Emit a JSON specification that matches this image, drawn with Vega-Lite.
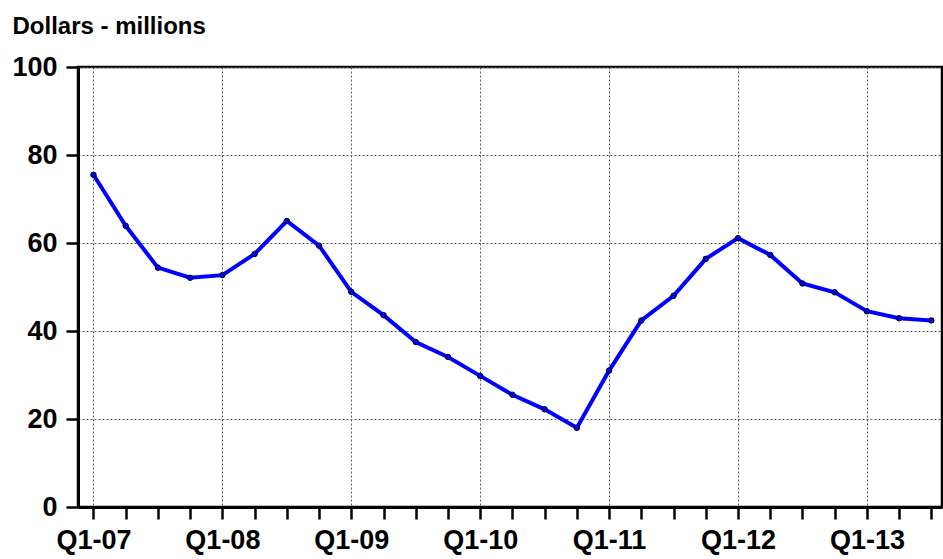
{
  "$schema": "https://vega.github.io/schema/vega-lite/v6.json",
  "width": 864,
  "height": 440,
  "autosize": "none",
  "padding": {"left": 78, "top": 67, "right": 1, "bottom": 52},
  "background": "white",
  "config": {
    "font": "Liberation Sans",
    "view": {"stroke": "black", "strokeWidth": 2.5}
  },
  "data": {
    "values": [
      {"q": "Q1-07", "i": 0, "v": 75.5},
      {"q": "Q2-07", "i": 1, "v": 63.9},
      {"q": "Q3-07", "i": 2, "v": 54.4},
      {"q": "Q4-07", "i": 3, "v": 52.1},
      {"q": "Q1-08", "i": 4, "v": 52.7},
      {"q": "Q2-08", "i": 5, "v": 57.5},
      {"q": "Q3-08", "i": 6, "v": 65.0},
      {"q": "Q4-08", "i": 7, "v": 59.4},
      {"q": "Q1-09", "i": 8, "v": 48.9},
      {"q": "Q2-09", "i": 9, "v": 43.6},
      {"q": "Q3-09", "i": 10, "v": 37.5},
      {"q": "Q4-09", "i": 11, "v": 34.1},
      {"q": "Q1-10", "i": 12, "v": 29.8},
      {"q": "Q2-10", "i": 13, "v": 25.5},
      {"q": "Q3-10", "i": 14, "v": 22.2},
      {"q": "Q4-10", "i": 15, "v": 18.0},
      {"q": "Q1-11", "i": 16, "v": 31.0},
      {"q": "Q2-11", "i": 17, "v": 42.4},
      {"q": "Q3-11", "i": 18, "v": 48.0},
      {"q": "Q4-11", "i": 19, "v": 56.4},
      {"q": "Q1-12", "i": 20, "v": 61.1},
      {"q": "Q2-12", "i": 21, "v": 57.3},
      {"q": "Q3-12", "i": 22, "v": 50.8},
      {"q": "Q4-12", "i": 23, "v": 48.8},
      {"q": "Q1-13", "i": 24, "v": 44.5},
      {"q": "Q2-13", "i": 25, "v": 42.9},
      {"q": "Q3-13", "i": 26, "v": 42.4}
    ]
  },
  "encoding": {
    "x": {
      "field": "i",
      "type": "quantitative",
      "scale": {"domain": [-0.48, 26.33], "nice": false, "zero": false},
      "axis": {
        "title": null,
        "values": [0,1,2,3,4,5,6,7,8,9,10,11,12,13,14,15,16,17,18,19,20,21,22,23,24,25,26],
        "labelExpr": "datum.value % 4 == 0 ? 'Q1-' + (7 + datum.value / 4 < 10 ? '0' : '') + (7 + datum.value / 4) : ''",
        "labelFontSize": 27,
        "labelFontWeight": "bold",
        "labelColor": "black",
        "labelPadding": 8,
        "labelFlush": false,
        "labelOverlap": false,
        "labelBound": false,
        "tickSize": 12,
        "tickWidth": 2.5,
        "tickColor": "black",
        "domainColor": "black",
        "domainWidth": 3,
        "grid": true,
        "gridColor": "#555555",
        "gridDash": [2, 2],
        "gridWidth": 1,
        "gridOpacity": {"condition": {"test": "datum.value % 4 == 0", "value": 1}, "value": 0}
      }
    },
    "y": {
      "field": "v",
      "type": "quantitative",
      "scale": {"domain": [0, 100], "nice": false},
      "axis": {
        "title": "Dollars - millions",
        "titleAngle": 0,
        "titleX": -66,
        "titleY": -34,
        "titleAlign": "left",
        "titleBaseline": "alphabetic",
        "titleFontSize": 24,
        "titleFontWeight": "bold",
        "titleColor": "black",
        "values": [0, 20, 40, 60, 80, 100],
        "labelFontSize": 27,
        "labelFontWeight": "bold",
        "labelColor": "black",
        "labelPadding": 9,
        "labelFlush": false,
        "labelBound": false,
        "tickSize": 12,
        "tickWidth": 2.5,
        "tickColor": "black",
        "domainColor": "black",
        "domainWidth": 3,
        "grid": true,
        "gridColor": "#555555",
        "gridDash": [2, 2],
        "gridWidth": 1
      }
    }
  },
  "layer": [
    {
      "mark": {"type": "line", "color": "#0000FF", "strokeWidth": 4}
    },
    {
      "mark": {"type": "point", "filled": true, "fill": "#0000FF", "stroke": "black", "strokeWidth": 1, "size": 30, "opacity": 1}
    }
  ]
}
